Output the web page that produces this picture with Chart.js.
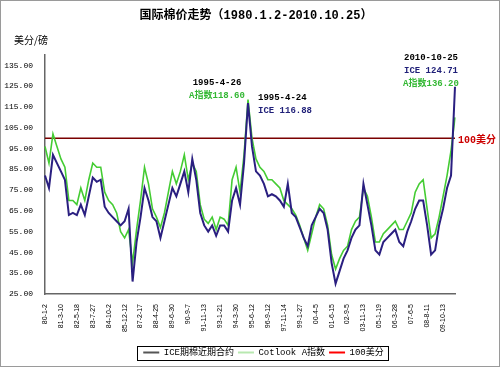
<!DOCTYPE html>
<html lang="zh">
<head>
    <meta charset="UTF-8">
    <title>国际棉价走势</title>
    <script src="https://cdn.jsdelivr.net/npm/chart.js"></script>
    <style>
        html, body { margin: 0; padding: 0; background: #fff; }
        #wrap { width: 500px; height: 367px; }
    </style>
</head>
<body>
<div id="wrap"><canvas id="cottonChart"></canvas></div>
<script>
    // tick labels on the date axis (one every 4 data points)
    const tickLabels = [
        "80-1-2", "81-3-10", "82-5-18", "83-7-27", "84-10-2", "85-12-12", "87-2-17",
        "88-4-25", "89-6-30", "90-9-7", "91-11-13", "93-1-21", "94-3-30", "95-6-12",
        "96-9-12", "97-11-14", "99-1-27", "00-4-5", "01-6-15", "02-9-5", "03-11-13",
        "05-1-19", "06-3-28", "07-6-5", "08-8-11", "09-10-13"
    ];
    const stepsPerTick = 4;
    const pointCount = 104;

    const yTicks = [25, 35, 45, 55, 65, 75, 85, 95, 105, 115, 125, 135];

    // ICE nearby futures, US cents / lb
    const iceValues = [
        82, 76, 92, 88, 84, 80, 63, 64, 63, 68,
        63, 72, 81, 79, 80, 67, 64, 62, 60, 58,
        60, 66, 31, 50, 62, 76, 70, 62, 60, 52,
        60, 68, 76, 72, 78, 84, 74, 90, 80, 64,
        58, 55, 58, 53, 58, 58, 55, 70, 76, 68,
        88, 116.88, 96, 84, 82, 78, 72, 73, 72, 70,
        67, 78, 64, 62, 57, 52, 48, 58, 62, 66,
        64, 56, 40, 30, 36, 42, 46, 52, 56, 58,
        78, 68, 58, 46, 44, 50, 52, 54, 56, 50,
        48, 55, 60, 66, 70, 70, 58, 44, 46, 58,
        66, 76, 82, 124.71
    ];

    // Cotlook A index
    const cotlookValues = [
        96, 88, 102, 96, 90, 86, 70, 70, 68, 76,
        70, 80, 88, 86, 86, 74, 70, 68, 64, 55,
        52, 56, 40, 56, 70, 86, 78, 66, 62, 57,
        64, 74, 84, 78, 84, 92, 80, 88, 84, 68,
        61, 59, 62, 56, 62, 61, 58, 80, 86, 74,
        92, 118.6, 100, 90, 86, 84, 80, 80, 78, 76,
        70, 68, 66, 63, 58, 52, 46, 54, 62, 68,
        66, 58, 44, 37, 42, 46, 48, 56, 60, 62,
        76, 72, 62, 50, 50, 54, 56, 58, 60, 56,
        56, 60, 64, 74, 78, 80, 66, 52, 54, 62,
        72, 82, 94, 110
    ];

    const refLevel = 100;
    const seriesNames = ["ICE期棉近期合约", "Cotlook A指数", "100美分"];
    const legendColors = ["#555555", "#b8e8b0", "#ff0000"];

    // category list: a tick label every 4 points, blanks between
    const categories = [];
    for (let i = 0; i < pointCount; i++) {
        categories.push(i % stepsPerTick === 0 ? (tickLabels[i / stepsPerTick] || "") : "");
    }

    const monoBold = 'bold 9px "Liberation Mono", "Noto Sans CJK SC"';

    // frame, titles and the callout texts
    const decor = {
        id: "decor",
        beforeDraw(chart) {
            const c = chart.ctx;
            c.save();
            c.fillStyle = "#fff";
            c.fillRect(0, 0, chart.width, chart.height);
            c.restore();
        },
        afterLayout(chart) {
            // legend sits a little right of centre in the original
            const lg = chart.legend;
            lg.left += 36;
            lg.right += 36;
        },
        afterDatasetsDraw(chart) {
            const c = chart.ctx;
            const xs = chart.scales.x, ys = chart.scales.y;
            const area = chart.chartArea;
            c.save();

            // title
            c.fillStyle = "#000";
            c.textAlign = "center";
            c.textBaseline = "middle";
            c.font = 'bold 12px "Liberation Mono", "Noto Sans CJK SC"';
            c.fillText("国际棉价走势（1980.1.2-2010.10.25）", 256, 16);

            // unit
            c.textAlign = "left";
            c.font = '10px "Noto Sans CJK SC"';
            c.fillText("美分/磅", 14, 40);

            // 100 cents marker
            c.fillStyle = "#cc0000";
            c.font = 'bold 10px "Liberation Mono", "Noto Sans CJK SC"';
            c.fillText("100美分", area.right + 3, ys.getPixelForValue(refLevel) + 2);

            // 1995 peak
            const pk = 51;
            const px = xs.getPixelForValue(pk);
            const gy = ys.getPixelForValue(cotlookValues[pk]);
            const iy = ys.getPixelForValue(iceValues[pk]);
            c.font = monoBold;
            c.textAlign = "center";
            c.fillStyle = "#000";
            c.fillText("1995-4-26", px - 31, gy - 17);
            c.fillStyle = "#33b833";
            c.fillText("A指数118.60", px - 31, gy - 4);
            c.textAlign = "left";
            c.fillStyle = "#000";
            c.fillText("1995-4-24", px + 10, iy - 5);
            c.fillStyle = "#1f1f78";
            c.fillText("ICE 116.88", px + 10, iy + 8);

            // last point
            const last = pointCount - 1;
            const lx = xs.getPixelForValue(last);
            const ly = ys.getPixelForValue(iceValues[last]);
            c.textAlign = "center";
            c.fillStyle = "#000";
            c.fillText("2010-10-25", lx - 24, ly - 29);
            c.fillStyle = "#1f1f78";
            c.fillText("ICE 124.71", lx - 24, ly - 16);
            c.fillStyle = "#33b833";
            c.fillText("A指数136.20", lx - 24, ly - 3);
            c.restore();
        },
        afterDraw(chart) {
            const c = chart.ctx;
            c.save();
            // box round the legend
            const boxes = chart.legend.legendHitBoxes;
            if (boxes && boxes.length) {
                let l = Infinity, r = -Infinity, t = Infinity, b = -Infinity;
                boxes.forEach(h => {
                    l = Math.min(l, h.left); r = Math.max(r, h.left + h.width);
                    t = Math.min(t, h.top); b = Math.max(b, h.top + h.height);
                });
                c.strokeStyle = "#000";
                c.lineWidth = 1;
                c.strokeRect(Math.round(l) - 5.5, Math.round(t) - 1.5, Math.round(r - l) + 10, Math.round(b - t) + 5);
            }
            // outer frame
            c.strokeStyle = "#9a9a9a";
            c.strokeRect(0.5, 0.5, chart.width - 1, chart.height - 1);
            c.restore();
        }
    };

    const ctx = document.getElementById("cottonChart").getContext("2d");

    new Chart(ctx, {
        type: "line",
        data: {
            labels: categories,
            datasets: [
                {
                    label: seriesNames[0],
                    data: iceValues,
                    borderColor: "#2a1f80",
                    borderWidth: 2,
                    pointRadius: 0,
                    tension: 0
                },
                {
                    label: seriesNames[1],
                    data: cotlookValues,
                    borderColor: "#44cc33",
                    borderWidth: 1.6,
                    pointRadius: 0,
                    tension: 0
                },
                {
                    label: seriesNames[2],
                    data: categories.map(() => refLevel),
                    borderColor: "#7a0000",
                    borderWidth: 1.5,
                    pointRadius: 0
                }
            ]
        },
        options: {
            responsive: true,
            maintainAspectRatio: false,
            animation: false,
            layout: { padding: { top: 55, left: 0, right: 45, bottom: 0 } },
            plugins: {
                title: { display: false },
                tooltip: { enabled: false },
                legend: {
                    position: "bottom",
                    labels: {
                        color: "#000",
                        font: { size: 9, family: '"Liberation Mono", "Noto Sans CJK SC"' },
                        boxWidth: 16,
                        boxHeight: 2,
                        padding: 4,
                        generateLabels: chart => chart.data.datasets.map((d, i) => ({
                            text: d.label,
                            fillStyle: legendColors[i],
                            strokeStyle: legendColors[i],
                            lineWidth: 0,
                            fontColor: "#000",
                            datasetIndex: i
                        }))
                    }
                }
            },
            scales: {
                x: {
                    type: "category",
                    grid: { display: false },
                    border: { display: true, color: "#666", width: 1.5 },
                    afterFit: s => { s.height = 50; },
                    ticks: {
                        autoSkip: false,
                        minRotation: 90,
                        maxRotation: 90,
                        padding: 2,
                        color: "#000",
                        font: { size: 7, family: '"Liberation Sans Narrow", "Liberation Sans"' },
                        callback: (v, i) => categories[i]
                    }
                },
                y: {
                    min: 25,
                    max: 140,
                    grid: { display: false, drawTicks: false },
                    border: { display: true, color: "#666", width: 1.5 },
                    afterFit: s => { s.width = 45; },
                    afterBuildTicks: s => { s.ticks = yTicks.map(v => ({ value: v })); },
                    ticks: {
                        padding: 12,
                        color: "#000",
                        font: { size: 8, family: '"Liberation Mono"' },
                        callback: v => Number(v).toFixed(2)
                    }
                }
            }
        },
        plugins: [decor]
    });
</script>
</body>
</html>
